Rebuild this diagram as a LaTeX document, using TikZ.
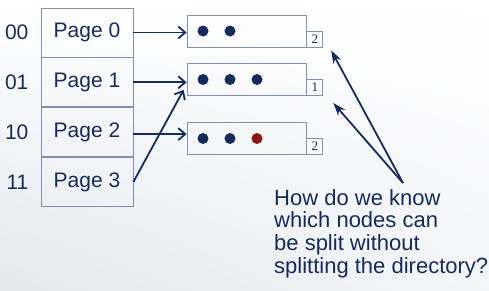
\documentclass[tikz,border=0pt]{standalone}
\usepackage{fontspec}
\setmainfont{Liberation Sans}
\newfontfamily\depthfont{Liberation Serif}
\usepackage{tikz}
\usetikzlibrary{shapes.geometric, arrows, arrows.meta, positioning, calc, shadings}
\definecolor{navy}{RGB}{22,42,92}
\definecolor{boxedge}{RGB}{128,144,176}
\definecolor{darkred}{RGB}{140,22,22}
\definecolor{bglow}{RGB}{228,231,238}
\tikzstyle{page} = [rectangle,
minimum width=92pt,
minimum height=49pt,
inner sep=0pt,
text=navy,
font=\fontsize{21}{23}\selectfont,
draw=boxedge, thick]
\tikzstyle{hashbits} = [inner sep=0pt, text=navy,
font=\fontsize{21}{23}\selectfont]
\tikzstyle{bucket} = [rectangle,
minimum width=119pt,
minimum height=32pt,
draw=boxedge, thick]
\tikzstyle{depth} = [rectangle,
minimum width=16pt,
minimum height=16pt,
inner sep=0pt,
text=navy,
font=\depthfont\fontsize{13}{13}\selectfont,
draw=boxedge, thick]
\tikzstyle{entry} = [circle, fill=navy, minimum size=11pt, inner sep=0pt]
\tikzstyle{arrow} = [line width=1.8pt, navy, -{Straight Barb[length=7pt,width=12pt]}]
\tikzstyle{callout} = [line width=1.8pt, navy, -{Stealth[length=13pt,width=9pt]}]

\begin{document}
\begin{tikzpicture}[x=1pt, y=-1pt]
                \shade[lower left=bglow, upper right=white, lower right=white!60!bglow, upper left=white] (0,0) rectangle (489,290);
                \useasboundingbox (0,0) rectangle (489,290);

                % directory
                \node (p0) [page] at (87,32.5) {Page 0};
                \node (p1) [page, below=0pt of p0] {Page 1};
                \node (p2) [page, below=0pt of p1] {Page 2};
                \node (p3) [page, below=0pt of p2] {Page 3};
                \node (h0) [hashbits, left=12pt of p0] {00};
                \node (h1) [hashbits, left=12pt of p1] {01};
                \node (h2) [hashbits, left=12pt of p2] {10};
                \node (h3) [hashbits, left=12pt of p3] {11};

                % buckets
                \node (b0) [bucket] at (246.5,31) {};
                \node (b1) [bucket] at (246.5,79.5) {};
                \node (b2) [bucket] at (246.5,138.5) {};
                \node (d0) [depth, anchor=south west] at (b0.south east) {2};
                \node (d1) [depth, anchor=south west] at (b1.south east) {1};
                \node (d2) [depth, anchor=south west] at (b2.south east) {2};

                \node (e00) [entry] at (203,31) {};
                \node (e01) [entry] at (230,31) {};
                \node (e10) [entry] at (203,79.5) {};
                \node (e11) [entry] at (230,79.5) {};
                \node (e12) [entry] at (257,79.5) {};
                \node (e20) [entry] at (203,138.5) {};
                \node (e21) [entry] at (230,138.5) {};
                \node (e22) [entry, fill=darkred] at (257,138.5) {};

                \draw [arrow] (p0.east) -- (p0.east -| b0.west);
                \draw [arrow] (p1.east) -- (p1.east -| b1.west);
                \draw [arrow] ($(p2.east)+(0,2)$) -- ($(p2.east -| b2.west)+(0,2)$);
                \draw [arrow] (p3.east) -- ($(b1.south west)+(-3,-6)$);

                % question
                \node (q) [anchor=north west, align=left, inner sep=0pt, text=navy,
                      font=\fontsize{22}{22.7}\selectfont] at (274,189)
                      {How do we know\\which nodes can\\be split without\\splitting the directory?};
                \coordinate (apex) at (403,183);
                \draw [callout] (apex) -- ($(d0.south east)+(8,3)$);
                \draw [callout] (apex) -- ($(d1.south east)+(10,7)$);
            \end{tikzpicture}
\end{document}
